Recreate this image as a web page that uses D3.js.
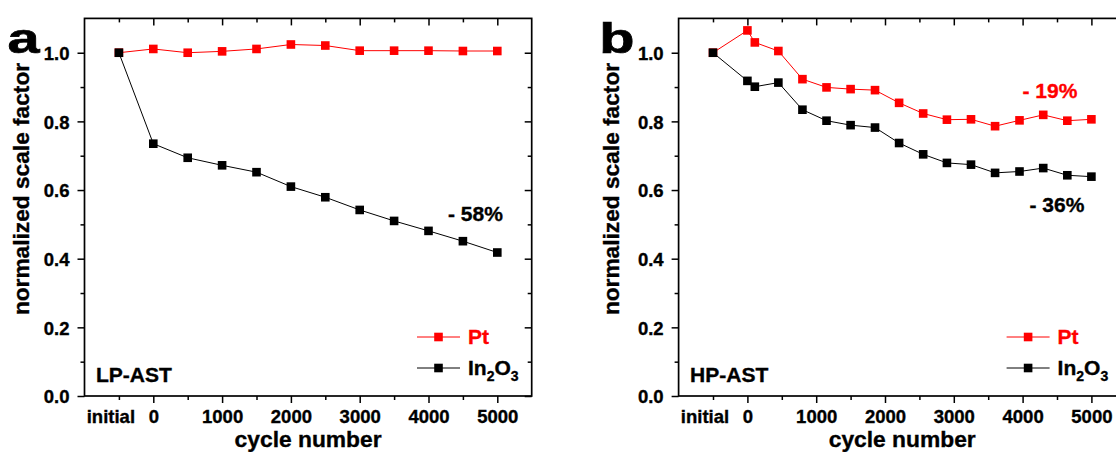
<!DOCTYPE html>
<html>
<head>
<meta charset="utf-8">
<script src="https://cdn.jsdelivr.net/npm/d3@7"></script>
<style>
    body { margin: 0; background: #fff; }
    svg { display: block; font-family: "Liberation Sans", Arial, sans-serif; font-weight: bold; }
    text { stroke-width: 0.35px; paint-order: stroke; }
</style>
</head>
<body>
<svg id="canvas" width="1116" height="452"></svg>
<script>
// "initial" is drawn half a step left of cycle 0
let initialPos = -500

let cyclesA = ["initial", 0, 500, 1000, 1500, 2000, 2500, 3000, 3500, 4000, 4500, 5000]
let ptA = [1.0, 1.011, 1.0, 1.004, 1.011, 1.024, 1.021, 1.006, 1.006, 1.006, 1.005, 1.005]
let inA = [1.0, 0.735, 0.694, 0.672, 0.652, 0.610, 0.579, 0.542, 0.510, 0.481, 0.451, 0.418]

let cyclesB = ["initial", 0, 108, 450, 800, 1150, 1500, 1855, 2205, 2555, 2900, 3250, 3600, 3955, 4300, 4650, 5000]
let ptB = [1.0, 1.065, 1.030, 1.005, 0.923, 0.899, 0.894, 0.891, 0.854, 0.823, 0.805, 0.806, 0.786, 0.803, 0.819, 0.802, 0.806]
let inB = [1.0, 0.918, 0.901, 0.913, 0.834, 0.802, 0.789, 0.782, 0.737, 0.704, 0.679, 0.674, 0.650, 0.654, 0.664, 0.643, 0.639]

let xTicks = [0, 1000, 2000, 3000, 4000, 5000]
let xMinor = [500, 1500, 2500, 3500, 4500]
let yTicks = [0, 0.2, 0.4, 0.6, 0.8, 1.0]
let yMinor = [0.1, 0.3, 0.5, 0.7, 0.9]

let seriesNames = ["Pt", "In2O3"]
let seriesColors = ["#ff0000", "#000000"]

let canvas = d3.select("#canvas")

let panels = [
    {
        letter: "a", left: 84.5, letterX: 7.5, ylabelX: 28.5, tag: "LP-AST",
        cycles: cyclesA, pt: ptA, ino: inA, legendX: 417,
        notes: [{ text: "- 58%", x: 448, y: 220.7, color: "#000" }]
    },
    {
        letter: "b", left: 678.6, letterX: 599.3, ylabelX: 619.3, tag: "HP-AST",
        cycles: cyclesB, pt: ptB, ino: inB, legendX: 1006.6,
        notes: [
            { text: "- 19%", x: 1022.5, y: 98.3, color: "#ff0000" },
            { text: "- 36%", x: 1029.5, y: 211.7, color: "#000" }
        ]
    }
]

let plotW = 447.2
let plotTop = 18.4
let plotBottom = 396

let drawPanel = (p) => {
    let x = d3.scaleLinear().domain([-1000, 5500]).range([p.left, p.left + plotW])
    let y = d3.scaleLinear().domain([0, 1.1]).range([plotBottom, plotTop])
    let xPos = (c) => c === "initial" ? x(initialPos) : x(c)

    let g = canvas.append("g")

    // minor ticks
    g.append("g").attr("transform", "translate(0," + plotBottom + ")")
        .call(d3.axisBottom(x).tickValues([initialPos, ...xMinor]).tickSize(4).tickFormat(""))
    g.append("g").attr("transform", "translate(0," + plotTop + ")")
        .call(d3.axisTop(x).tickValues([initialPos, ...xMinor]).tickSize(-4).tickFormat(""))
    g.append("g").attr("transform", "translate(" + p.left + ",0)")
        .call(d3.axisLeft(y).tickValues(yMinor).tickSize(4).tickFormat(""))
    g.append("g").attr("transform", "translate(" + (p.left + plotW) + ",0)")
        .call(d3.axisRight(y).tickValues(yMinor).tickSize(-4).tickFormat(""))

    // major ticks
    let bx = g.append("g").attr("transform", "translate(0," + plotBottom + ")")
        .call(d3.axisBottom(x).tickValues(xTicks).tickSize(7).tickFormat(d3.format("d")))
    g.append("g").attr("transform", "translate(0," + plotTop + ")")
        .call(d3.axisTop(x).tickValues(xTicks).tickSize(-7).tickFormat(""))
    let ly = g.append("g").attr("transform", "translate(" + p.left + ",0)")
        .call(d3.axisLeft(y).tickValues(yTicks).tickSize(7).tickFormat(d3.format(".1f")))
    g.append("g").attr("transform", "translate(" + (p.left + plotW) + ",0)")
        .call(d3.axisRight(y).tickValues(yTicks).tickSize(-7).tickFormat(""))

    g.selectAll(".domain").remove()
    g.selectAll(".tick line").attr("stroke", "#000").attr("stroke-width", 1.5)
    g.selectAll("g").attr("font-family", null).attr("font-size", null)

    bx.selectAll(".tick text")
        .attr("y", 26.7).attr("dy", null)
        .style("font-size", "18.5px").attr("fill", "#000").attr("stroke", "#000")
    ly.selectAll(".tick text")
        .attr("x", -15).attr("dy", "0.36em")
        .style("font-size", "18.5px").attr("fill", "#000").attr("stroke", "#000")

    // "initial" label
    g.append("text")
        .attr("x", x(initialPos) - 8).attr("y", plotBottom + 26.7)
        .attr("text-anchor", "middle").style("font-size", "18.5px")
        .attr("stroke", "#000")
        .text("initial")

    // frame
    g.append("rect")
        .attr("x", p.left).attr("y", plotTop)
        .attr("width", plotW).attr("height", plotBottom - plotTop)
        .attr("fill", "none").attr("stroke", "#000").attr("stroke-width", 1.7)

    // series: Pt first, In2O3 on top
    let series = [p.pt, p.ino]
    series.forEach((vals, si) => {
        let pts = p.cycles.map((c, i) => [xPos(c), y(vals[i])])
        g.append("path")
            .attr("d", d3.line()(pts))
            .attr("fill", "none")
            .attr("stroke", seriesColors[si])
            .attr("stroke-width", 1)
        g.selectAll(null).data(pts).enter().append("rect")
            .attr("x", d => d[0] - 4.3).attr("y", d => d[1] - 4.3)
            .attr("width", 8.6).attr("height", 8.6)
            .attr("fill", seriesColors[si])
    })

    // legend
    let legendRows = [337, 368]
    seriesNames.forEach((name, si) => {
        let ry = legendRows[si]
        g.append("line")
            .attr("x1", p.legendX).attr("x2", p.legendX + 43)
            .attr("y1", ry).attr("y2", ry)
            .attr("stroke", seriesColors[si]).attr("stroke-width", 1)
        g.append("rect")
            .attr("x", p.legendX + 21.5 - 4.3).attr("y", ry - 4.3)
            .attr("width", 8.6).attr("height", 8.6)
            .attr("fill", seriesColors[si])
        let t = g.append("text")
            .attr("x", p.legendX + 51).attr("y", ry + 7)
            .attr("fill", seriesColors[si]).attr("stroke", seriesColors[si])
            .style("font-size", "21px")
        if (name === "In2O3") {
            t.append("tspan").text("In")
            t.append("tspan").attr("dy", 6).style("font-size", "14px").text("2")
            t.append("tspan").attr("dy", -6).text("O")
            t.append("tspan").attr("dy", 6).style("font-size", "14px").text("3")
        } else {
            t.text(name)
        }
    })

    // annotations
    p.notes.forEach((n) => {
        g.append("text")
            .attr("x", n.x).attr("y", n.y)
            .attr("fill", n.color).attr("stroke", n.color)
            .style("font-size", "21px")
            .text(n.text)
    })
    g.append("text")
        .attr("x", p.left + 11.5).attr("y", 381.7)
        .style("font-size", "21px").attr("stroke", "#000")
        .text(p.tag)

    // axis titles
    g.append("text")
        .attr("transform", "translate(" + p.ylabelX + ",189) rotate(-90)")
        .attr("text-anchor", "middle").style("font-size", "22.7px")
        .attr("stroke", "#000")
        .text("normalized scale factor")
    g.append("text")
        .attr("x", p.left + plotW / 2).attr("y", 446.5)
        .attr("text-anchor", "middle").style("font-size", "22.8px")
        .attr("stroke", "#000")
        .text("cycle number")

    // panel letter
    g.append("text")
        .attr("transform", "translate(" + p.letterX + ",53) scale(1.34,1)")
        .style("font-size", "43px")
        .attr("stroke", "#000").style("stroke-width", "0.7px")
        .text(p.letter)
}

panels.forEach(drawPanel)
</script>
</body>
</html>
